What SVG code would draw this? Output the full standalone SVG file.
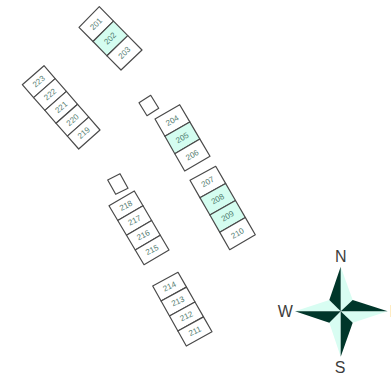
<svg xmlns="http://www.w3.org/2000/svg" width="391" height="373" viewBox="0 0 391 373">
<style>
.c{fill:#fff;stroke:#4a4a4a;stroke-width:1.2;stroke-linejoin:round}
.h{fill:#d4fdf0}
.t{font-family:"Liberation Sans",Arial,sans-serif;font-size:8px;fill:#3f6f63;text-anchor:middle;dominant-baseline:central;opacity:.9}
.l{font-family:"Liberation Sans",Arial,sans-serif;font-size:16px;fill:#333;text-anchor:middle;dominant-baseline:central;opacity:.95}
.d{fill:#00362a}
.p{fill:#d8fdf2}
</style>
<rect width="391" height="373" fill="#fff"/>
<g id="room-201"><polygon class="c" points="79,27.3 99.3,6.7 113.5,21.1 93,41.5"/><text class="t" x="96.2" y="24.1" transform="rotate(-45 96.2 24.1)">201</text></g>
<g id="room-202"><polygon class="c h" points="93,41.5 113.5,21.1 127.8,35.6 107,55.8"/><text class="t" x="110.3" y="38.6" transform="rotate(-45 110.3 38.6)">202</text></g>
<g id="room-203"><polygon class="c" points="107,55.8 127.8,35.6 142,50 121,70"/><text class="t" x="124.5" y="52.9" transform="rotate(-45 124.5 52.9)">203</text></g>
<g id="room-223"><polygon class="c" points="22.3,84.7 44,65.7 55.2,78.6 33.6,97.6"/><text class="t" x="38.9" y="81.6" transform="rotate(-41 38.9 81.6)">223</text></g>
<g id="room-222"><polygon class="c" points="33.6,97.6 55.2,78.6 66.4,91.4 44.9,110.4"/><text class="t" x="50.2" y="94.5" transform="rotate(-41 50.2 94.5)">222</text></g>
<g id="room-221"><polygon class="c" points="44.9,110.4 66.4,91.4 77.6,104.3 56.1,123.3"/><text class="t" x="61.4" y="107.3" transform="rotate(-41 61.4 107.3)">221</text></g>
<g id="room-220"><polygon class="c" points="56.1,123.3 77.6,104.3 88.8,117.1 67.4,136.1"/><text class="t" x="72.7" y="120.2" transform="rotate(-41 72.7 120.2)">220</text></g>
<g id="room-219"><polygon class="c" points="67.4,136.1 88.8,117.1 100,130 78.7,149"/><text class="t" x="83.9" y="133" transform="rotate(-41 83.9 133)">219</text></g>
<g id="box-a"><polygon class="c" points="139,102.8 150.7,95.3 158.7,108.3 147,115.7"/></g>
<g id="room-204"><polygon class="c" points="155,119 179.7,104.7 189.8,121.9 164.9,136.3"/><text class="t" x="172.4" y="120.7" transform="rotate(-30 172.4 120.7)">204</text></g>
<g id="room-205"><polygon class="c h" points="164.9,136.3 189.8,121.9 199.9,139.1 174.8,153.7"/><text class="t" x="182.4" y="138" transform="rotate(-30 182.4 138)">205</text></g>
<g id="room-206"><polygon class="c" points="174.8,153.7 199.9,139.1 210,156.3 184.7,171"/><text class="t" x="192.4" y="155.2" transform="rotate(-30 192.4 155.2)">206</text></g>
<g id="room-207"><polygon class="c" points="190,180.3 215.7,166.3 225.6,183.4 199.9,197.65"/><text class="t" x="207.9" y="181.9" transform="rotate(-30 207.9 181.9)">207</text></g>
<g id="room-208"><polygon class="c h" points="199.9,197.65 225.6,183.4 235.5,200.5 209.9,215"/><text class="t" x="217.8" y="199.1" transform="rotate(-30 217.8 199.1)">208</text></g>
<g id="room-209"><polygon class="c h" points="209.9,215 235.5,200.5 245.4,217.6 219.8,232.35"/><text class="t" x="227.7" y="216.3" transform="rotate(-30 227.7 216.3)">209</text></g>
<g id="room-210"><polygon class="c" points="219.8,232.35 245.4,217.6 255.3,234.7 229.7,249.7"/><text class="t" x="237.6" y="233.5" transform="rotate(-30 237.6 233.5)">210</text></g>
<g id="box-b"><polygon class="c" points="107.7,180 120,173.7 128,188.3 115.7,194.3"/></g>
<g id="room-218"><polygon class="c" points="109,205.7 134.3,191 143,205.75 117.75,220.45"/><text class="t" x="126" y="205.7" transform="rotate(-27 126 205.7)">218</text></g>
<g id="room-217"><polygon class="c" points="117.75,220.45 143,205.75 151.65,220.5 126.5,235.2"/><text class="t" x="134.7" y="220.45" transform="rotate(-27 134.7 220.45)">217</text></g>
<g id="room-216"><polygon class="c" points="126.5,235.2 151.65,220.5 160.3,235.25 135.25,249.95"/><text class="t" x="143.4" y="235.2" transform="rotate(-27 143.4 235.2)">216</text></g>
<g id="room-215"><polygon class="c" points="135.25,249.95 160.3,235.25 169,250 144,264.7"/><text class="t" x="152.1" y="250" transform="rotate(-27 152.1 250)">215</text></g>
<g id="room-214"><polygon class="c" points="152.7,286 178,272.3 186.5,287.15 161.1,301"/><text class="t" x="169.6" y="286.6" transform="rotate(-25 169.6 286.6)">214</text></g>
<g id="room-213"><polygon class="c" points="161.1,301 186.5,287.15 195,302 169.5,316"/><text class="t" x="178" y="301.5" transform="rotate(-25 178 301.5)">213</text></g>
<g id="room-212"><polygon class="c" points="169.5,316 195,302 203.5,316.85 177.9,331"/><text class="t" x="186.5" y="316.4" transform="rotate(-25 186.5 316.4)">212</text></g>
<g id="room-211"><polygon class="c" points="177.9,331 203.5,316.85 212,331.7 186.3,346"/><text class="t" x="195" y="331.3" transform="rotate(-25 195 331.3)">211</text></g>
<g id="compass">
<polygon class="p" points="340.7,266.7 352.7,300 340.7,311.3"/>
<polygon class="p" points="387.7,311.3 352.7,322.7 340.7,311.3"/>
<polygon class="p" points="340.7,356.7 329.3,322.7 340.7,311.3"/>
<polygon class="p" points="295,311.3 329.3,300 340.7,311.3"/>
<polygon class="d" points="340.7,266.7 329.3,300 340.7,311.3"/>
<polygon class="d" points="387.7,311.3 352.7,300 340.7,311.3"/>
<polygon class="d" points="340.7,356.7 352.7,322.7 340.7,311.3"/>
<polygon class="d" points="295,311.3 329.3,322.7 340.7,311.3"/>
<text class="l" x="340.7" y="256">N</text>
<text class="l" x="285.3" y="311">W</text>
<text class="l" x="340" y="367">S</text>
<text class="l" x="395" y="311">E</text>
</g>
</svg>
